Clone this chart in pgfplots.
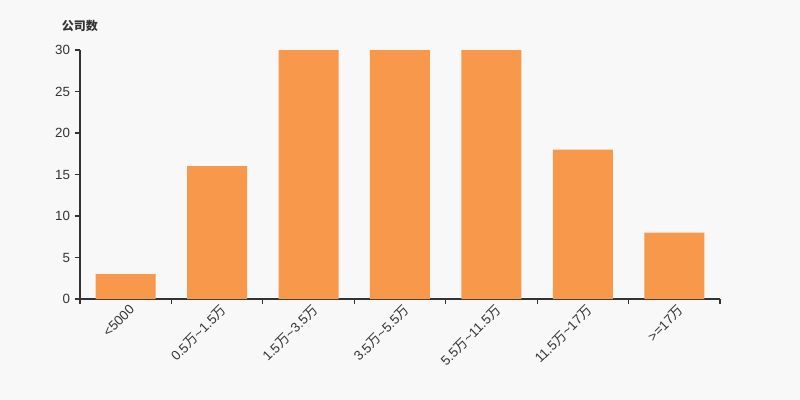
\documentclass[border=0pt]{standalone}
\usepackage{pgfplots}
\pgfplotsset{compat=1.18}
\usepackage{fontspec}
\setmainfont{Liberation Sans}
\newfontfamily\cjk{Noto Sans CJK SC}
\definecolor{bg}{HTML}{F8F8F8}
\definecolor{barc}{HTML}{F7984A}
\definecolor{txt}{HTML}{333333}
\newcommand{\wan}{{\cjk 万}}
\begin{document}
\begin{tikzpicture}
\path[use as bounding box, fill=bg] (-60pt,-75.75pt) rectangle (540pt,224.25pt);
\begin{axis}[
  scale only axis,
  width=480pt, height=186.75pt,
  xmin=-0.5, xmax=6.5,
  ymin=0, ymax=30,
  ytick={0,5,10,15,20,25,30},
  xtick={-0.5,0.5,1.5,2.5,3.5,4.5,5.5,6.5},
  xticklabels={},
  extra x ticks={0,1,2,3,4,5,6},
  extra x tick labels={{<5000},{0.5\wan\textasciitilde1.5\wan},{1.5\wan\textasciitilde3.5\wan},{3.5\wan\textasciitilde5.5\wan},{5.5\wan\textasciitilde11.5\wan},{11.5\wan\textasciitilde17\wan},{>=17\wan}},
  extra x tick style={major tick length=0pt, tick style={draw=none},
    xticklabel style={rotate=45, anchor=north east, font=\fontsize{10}{12}\selectfont, text=txt, inner sep=1pt, yshift=-3pt}},
  yticklabel style={font=\fontsize{10}{12}\selectfont, text=txt},
  /pgf/number format/assume math mode=true,
  axis x line*=bottom,
  axis y line*=left,
  axis line style={draw=txt, line width=0.8pt, -},
  tick align=outside,
  major tick length=4pt,
  tick style={draw=txt, line width=0.8pt},
  ylabel={公司数},
  ylabel style={font=\cjk\bfseries\fontsize{9}{11}\selectfont, text=txt, rotate=-90, at={(rel axis cs:0,1)}, anchor=south, yshift=10pt},
  ybar, bar width=45pt,
]
\addplot[fill=barc, draw=none] coordinates {(0,3) (1,16) (2,30) (3,30) (4,30) (5,18) (6,8)};
\end{axis}
\end{tikzpicture}
\end{document}
